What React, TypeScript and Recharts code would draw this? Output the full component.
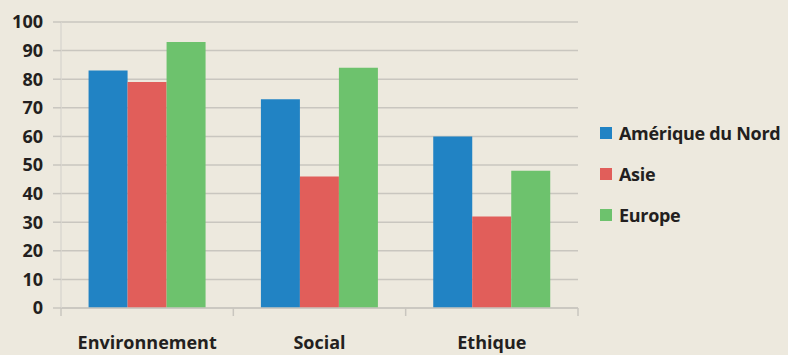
import React from 'react'
import { BarChart, Bar, XAxis, YAxis, CartesianGrid } from 'recharts'

const categories = ['Environnement', 'Social', 'Ethique']
const ameriqueDuNord = [83, 73, 60]
const asie = [79, 46, 32]
const europe = [93, 84, 48]
const yTicks = [0, 10, 20, 30, 40, 50, 60, 70, 80, 90, 100]

const series = [
    { key: 'ameriqueDuNord', name: 'Amérique du Nord', color: '#2183C4' },
    { key: 'asie', name: 'Asie', color: '#E15E5A' },
    { key: 'europe', name: 'Europe', color: '#6DC26D' },
]

const data = categories.map((c, i) => ({
    name: c,
    ameriqueDuNord: ameriqueDuNord[i],
    asie: asie[i],
    europe: europe[i],
}))

const W = 788
const H = 355
const margin = { top: 22, right: 210, bottom: 0, left: 0 }
const yAxisWidth = 61
const xAxisHeight = 47
const plotWidth = W - margin.left - margin.right - yAxisWidth
const band = plotWidth / categories.length

const FONT = '"Open Sans", sans-serif'
const TEXT = '#231F20'
const GRID = '#C9C6BF'

const CategoryTick = (props: any) => {
    const { x, y, index, payload } = props
    return (
        <g>
            {index === 0 && <line x1={x - band / 2} x2={x - band / 2} y1={y - 8} y2={y} stroke={GRID} strokeWidth={1.5} />}
            <line x1={x + band / 2} x2={x + band / 2} y1={y - 8} y2={y} stroke={GRID} strokeWidth={1.5} />
            <text x={x} y={y + 33} textAnchor="middle" fill={TEXT} fontFamily={FONT} fontWeight={700} fontSize={18}>
                {payload.value}
            </text>
        </g>
    )
}

const ChartLegend = () => (
    <div style={{ position: 'absolute', left: 600, top: 112, fontFamily: FONT, fontWeight: 700, fontSize: 18, letterSpacing: -0.3, color: TEXT }}>
        {series.map((s) => (
            <div key={s.key} style={{ display: 'flex', alignItems: 'center', height: 41 }}>
                <span style={{ width: 12, height: 12, background: s.color, marginRight: 7, display: 'inline-block' }} />
                <span style={{ whiteSpace: 'nowrap' }}>{s.name}</span>
            </div>
        ))}
    </div>
)

export default function App() {
    return (
        <div style={{ position: 'fixed', left: 0, top: 0, width: W, height: H, background: '#EDE9DE' }}>
            <BarChart width={W} height={H} data={data} margin={margin} barGap={0} barCategoryGap="16%">
                <CartesianGrid vertical={false} stroke={GRID} strokeWidth={1.5} />
                <XAxis
                    dataKey="name"
                    height={xAxisHeight}
                    tick={<CategoryTick />}
                    tickLine={false}
                    axisLine={{ stroke: GRID, strokeWidth: 1.5 }}
                    interval={0}
                />
                <YAxis
                    width={yAxisWidth}
                    domain={[0, 100]}
                    ticks={yTicks}
                    interval={0}
                    tickSize={8}
                    tickMargin={10}
                    tickLine={{ stroke: GRID, strokeWidth: 1.5 }}
                    axisLine={{ stroke: '#DAD7D0', strokeWidth: 1.5 }}
                    tick={{ fill: TEXT, fontFamily: FONT, fontWeight: 700, fontSize: 18 }}
                />
                {series.map((s) => (
                    <Bar key={s.key} dataKey={s.key} name={s.name} fill={s.color} isAnimationActive={false} />
                ))}
            </BarChart>
            <ChartLegend />
        </div>
    )
}
